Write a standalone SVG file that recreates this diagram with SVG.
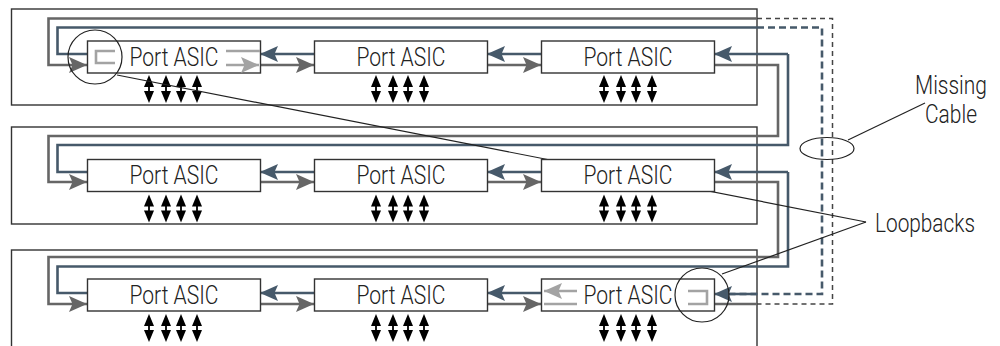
<svg xmlns="http://www.w3.org/2000/svg" xmlns:xlink="http://www.w3.org/1999/xlink" width="1000" height="346" viewBox="0 0 1000 346">
<style>
.chassis{fill:none;stroke:#333;stroke-width:1.4}
.box{fill:#fff;stroke:#333;stroke-width:1.4}
.g{fill:none;stroke:#666;stroke-width:2.6}
.b{fill:none;stroke:#46596a;stroke-width:2.6}
.ga{marker-end:url(#mg)}
.ba{marker-end:url(#mb)}
.gd{fill:none;stroke:#444;stroke-width:1.5;stroke-dasharray:5 4}
.bd{fill:none;stroke:#46596a;stroke-width:2.6;stroke-dasharray:7 4}
.lt{fill:none;stroke:#a3a3a3;stroke-width:2.6}
.call{fill:none;stroke:#222;stroke-width:1.2}
text{font-family:Roboto,"Liberation Sans",Arial,sans-serif;font-weight:300;font-size:25px;fill:#222}
.c{text-anchor:middle}
</style>
<defs>
<marker id="mg" markerUnits="userSpaceOnUse" markerWidth="20" markerHeight="18" refX="18" refY="9" orient="auto"><path d="M0 1L18 9L0 17L3.500 9Z" fill="#666"/></marker>
<marker id="mb" markerUnits="userSpaceOnUse" markerWidth="20" markerHeight="18" refX="18" refY="9" orient="auto"><path d="M0 1L18 9L0 17L3.500 9Z" fill="#46596a"/></marker>
<marker id="ml" markerUnits="userSpaceOnUse" markerWidth="20" markerHeight="18" refX="18" refY="9" orient="auto"><path d="M0 1L18 9L0 17L3.500 9Z" fill="#a3a3a3"/></marker>
<g id="bi"><path d="M0 0L5 12H-5Z" fill="#000"/><path d="M0 28L5 16H-5Z" fill="#000"/><path d="M0 10V18" stroke="#000" stroke-width="1.8"/></g>
<g id="io"><use xlink:href="#bi" href="#bi" x="0"/><use xlink:href="#bi" href="#bi" x="17"/><use xlink:href="#bi" href="#bi" x="32"/><use xlink:href="#bi" href="#bi" x="48"/></g>
</defs>
<g id="chassis">
<rect class="chassis" x="11.500" y="9" width="745.500" height="96"/>
<rect class="chassis" x="11.500" y="127" width="745.500" height="97"/>
<rect class="chassis" x="11.500" y="250" width="745.500" height="110"/>
</g>
<g id="connectors">
<path class="g ga" d="M757 18.500H48.500V65H87"/>
<path class="b" d="M757 27.500H57.500V54H87"/>
<path class="gd" d="M757 18.500H832.500V304H757"/>
<path class="bd" d="M757 27.500H822V294H730"/>
<path class="b ba" d="M314 54H260"/>
<path class="g ga" d="M260 65H314"/>
<path class="b ba" d="M541 54H487"/>
<path class="g ga" d="M487 65H541"/>
<path class="b ba" d="M788 54H714"/>
<path class="g ga" d="M714 65H778V136H48.500V182H87"/>
<path class="b" d="M788 54V145H57.500V172H87"/>
<path class="b ba" d="M314 172H260"/>
<path class="g ga" d="M260 182H314"/>
<path class="b ba" d="M541 172H487"/>
<path class="g ga" d="M487 182H541"/>
<path class="b ba" d="M788 172H714"/>
<path class="g ga" d="M714 182H778V257H48.500V304H87"/>
<path class="b" d="M788 172V266.500H57.500V293H87"/>
<path class="b ba" d="M314 293H260"/>
<path class="g ga" d="M260 304H314"/>
<path class="b ba" d="M541 293H487"/>
<path class="g ga" d="M487 304H541"/>
<path class="b ba" d="M757 294H714"/>
<path class="g" d="M714 304H757"/>
<use xlink:href="#io" href="#io" x="149" y="75"/>
<use xlink:href="#io" href="#io" x="376" y="75"/>
<use xlink:href="#io" href="#io" x="604" y="75"/>
<use xlink:href="#io" href="#io" x="149" y="194.500"/>
<use xlink:href="#io" href="#io" x="376" y="194.500"/>
<use xlink:href="#io" href="#io" x="604" y="194.500"/>
<use xlink:href="#io" href="#io" x="149" y="314"/>
<use xlink:href="#io" href="#io" x="376" y="314"/>
<use xlink:href="#io" href="#io" x="604" y="314"/>
<path class="call" d="M117 75L866 222"/>
</g>
<g id="asic-1-1"><rect class="box" x="87.500" y="41" width="173" height="32"/><text class="c" x="174" y="65.500" textLength="89" lengthAdjust="spacingAndGlyphs">Port ASIC</text>
<path class="lt" d="M115 51H96V63H115"/><path class="lt" d="M226 51H260"/><path class="lt" d="M226 65H259" marker-end="url(#ml)"/></g>
<g id="asic-1-2"><rect class="box" x="314.500" y="41" width="173" height="32"/><text class="c" x="401" y="65.500" textLength="89" lengthAdjust="spacingAndGlyphs">Port ASIC</text></g>
<g id="asic-1-3"><rect class="box" x="541.500" y="41" width="173" height="32"/><text class="c" x="628" y="65.500" textLength="89" lengthAdjust="spacingAndGlyphs">Port ASIC</text></g>
<g id="asic-2-1"><rect class="box" x="87.500" y="159.500" width="173" height="32"/><text class="c" x="174" y="183.500" textLength="89" lengthAdjust="spacingAndGlyphs">Port ASIC</text></g>
<g id="asic-2-2"><rect class="box" x="314.500" y="159.500" width="173" height="32"/><text class="c" x="401" y="183.500" textLength="89" lengthAdjust="spacingAndGlyphs">Port ASIC</text></g>
<g id="asic-2-3"><rect class="box" x="541.500" y="159.500" width="173" height="32"/><text class="c" x="628" y="183.500" textLength="89" lengthAdjust="spacingAndGlyphs">Port ASIC</text></g>
<g id="asic-3-1"><rect class="box" x="87.500" y="279" width="173" height="32"/><text class="c" x="174" y="303.500" textLength="89" lengthAdjust="spacingAndGlyphs">Port ASIC</text></g>
<g id="asic-3-2"><rect class="box" x="314.500" y="279" width="173" height="32"/><text class="c" x="401" y="303.500" textLength="89" lengthAdjust="spacingAndGlyphs">Port ASIC</text></g>
<g id="asic-3-3"><rect class="box" x="541.500" y="279" width="173" height="32"/><text class="c" x="628" y="303.500" textLength="89" lengthAdjust="spacingAndGlyphs">Port ASIC</text>
<path class="lt" d="M577 291H544" marker-end="url(#ml)"/><path class="lt" d="M544 304H577"/><path class="lt" d="M688 291H707V304H688"/></g>
<g id="callouts">
<circle class="call" cx="95" cy="57" r="27"/>
<circle class="call" cx="702" cy="295" r="27"/>
<ellipse class="call" cx="827" cy="148.500" rx="27" ry="11"/>
<path class="call" d="M848 140L925 103"/>
<path class="call" d="M866 222L722 274"/>
</g>
<g id="labels">
<text class="c" x="951" y="94" textLength="72" lengthAdjust="spacingAndGlyphs">Missing</text>
<text class="c" x="951" y="122.500" textLength="52" lengthAdjust="spacingAndGlyphs">Cable</text>
<text x="875" y="232" textLength="100" lengthAdjust="spacingAndGlyphs">Loopbacks</text>
</g>
</svg>
